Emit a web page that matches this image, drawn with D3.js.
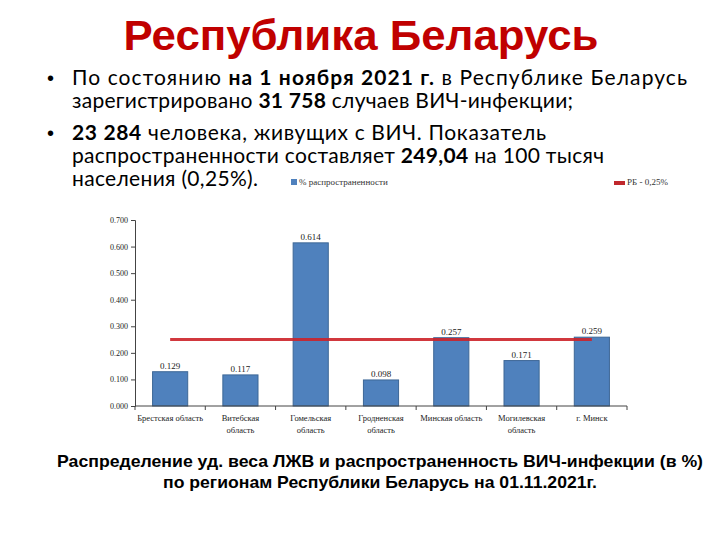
<!DOCTYPE html>
<html><head><meta charset="utf-8">
<script src="https://cdn.jsdelivr.net/npm/d3@7"></script>
<style>body{margin:0;background:#fff}</style>
</head><body>
<svg id="c" width="720" height="540"></svg>
<script>
const categories = [["Брестская область"],["Витебская","область"],["Гомельская","область"],["Гродненская","область"],["Минская область"],["Могилевская","область"],["г. Минск"]];
const values = [0.129, 0.117, 0.614, 0.098, 0.257, 0.171, 0.259];
const labels = ["0.129","0.117","0.614","0.098","0.257","0.171","0.259"];
const rbValue = 0.25;
const yTicks = [0,0.1,0.2,0.3,0.4,0.5,0.6,0.7];
const title = "Республика Беларусь";
const bullets = [
  [[["По состоянию ",false],["на 1 ноября 2021 г.",true],[" в Республике Беларусь",false]],
   [["зарегистрировано ",false],["31 758",true],[" случаев ВИЧ-инфекции;",false]]],
  [[["23 284",true],[" человека, живущих с ВИЧ. Показатель",false]],
   [["распространенности составляет ",false],["249,04",true],[" на 100 тысяч",false]],
   [["населения (0,25%).",false]]]
];
const caption = ["Распределение уд. веса ЛЖВ и распространенность ВИЧ-инфекции (в %)","по регионам Республики Беларусь на 01.11.2021г."];

const svg = d3.select("#c");
svg.append("text").attr("x",361).attr("y",50).attr("text-anchor","middle")
  .attr("font-family","Liberation Sans, Arial, sans-serif").attr("font-weight","bold")
  .attr("font-size",43).attr("fill","#c00000").attr("textLength",475).attr("lengthAdjust","spacingAndGlyphs").text(title);

const bf = "Lato, 'Open Sans', sans-serif";
const lineY = [[85,108],[140,163,186]];
const lineW = [[615,501],[474,532,186]];
bullets.forEach((b,i)=>{
  svg.append("text").attr("x",47).attr("y",lineY[i][0]).attr("font-family","Liberation Sans, Arial").attr("font-size",20).text("•");
  b.forEach((line,j)=>{
    const t = svg.append("text").attr("x",72).attr("y",lineY[i][j]).attr("font-family",bf).attr("font-size",21).attr("fill","#000")
      .attr("textLength",lineW[i][j]).attr("lengthAdjust","spacing");
    line.forEach(([s,bold])=>t.append("tspan").attr("font-weight",bold?"bold":"normal").text(s));
  });
});

const x0=135, x1=627, y0=406, yTop=220;
const x = d3.scaleBand().domain(d3.range(values.length)).range([x0,x1]).paddingInner(0.5).paddingOuter(0.25);
const y = d3.scaleLinear().domain([0,0.7]).range([y0,yTop]);
const serif = "Liberation Serif, 'Times New Roman', serif";

const g = svg.append("g");
g.append("g").attr("transform",`translate(${x0},0)`)
  .call(d3.axisLeft(y).tickValues(yTicks).tickFormat(d3.format(".3f")).tickSize(4))
  .call(a=>{a.selectAll("text").attr("font-family",serif).attr("font-size",8).attr("fill","#222");
    a.selectAll("line,path").attr("stroke","#444");});

g.selectAll("rect.bar").data(values).join("rect").attr("class","bar")
  .attr("x",(d,i)=>x(i)).attr("width",x.bandwidth())
  .attr("y",d=>y(d)).attr("height",d=>y0-y(d))
  .attr("fill","#4f81bd").attr("stroke","#3d6796").attr("stroke-width",1);

const step = (x1-x0)/values.length;
g.append("line").attr("x1",x(0)+x.bandwidth()/2).attr("x2",x(values.length-1)+x.bandwidth()/2)
  .attr("y1",y(rbValue)).attr("y2",y(rbValue)).attr("stroke","#cc2229").attr("stroke-width",3).attr("stroke-opacity",0.9);

g.selectAll("text.val").data(values).join("text").attr("class","val")
  .attr("x",(d,i)=>x(i)+x.bandwidth()/2).attr("y",d=>y(d)-3).attr("text-anchor","middle")
  .attr("font-family",serif).attr("font-size",9).attr("fill","#222").text((d,i)=>labels[i]);

g.append("line").attr("x1",x0).attr("x2",x1).attr("y1",y0).attr("y2",y0).attr("stroke","#444");
d3.range(values.length+1).forEach(i=>{
  g.append("line").attr("x1",x0+i*step).attr("x2",x0+i*step).attr("y1",y0).attr("y2",y0+4).attr("stroke","#444");
});
categories.forEach((c,i)=>{
  c.forEach((s,k)=>{
    g.append("text").attr("x",x(i)+x.bandwidth()/2).attr("y",y0+15+k*12).attr("text-anchor","middle")
      .attr("font-family",serif).attr("font-size",8.5).attr("fill","#222").text(s);
  });
});

svg.append("rect").attr("x",291).attr("y",179).attr("width",6).attr("height",6).attr("fill","#4f81bd");
svg.append("text").attr("x",299).attr("y",185).attr("font-family",serif).attr("font-size",9).attr("fill","#333").text("% распространенности");
svg.append("rect").attr("x",614).attr("y",181).attr("width",11).attr("height",4).attr("fill","#c0282d");
svg.append("text").attr("x",627).attr("y",185).attr("font-family",serif).attr("font-size",9).attr("fill","#333").text("РБ - 0,25%");

const capW = [646, 434];
caption.forEach((s,i)=>{
  svg.append("text").attr("x",380).attr("y",467+i*21).attr("text-anchor","middle")
    .attr("font-family","'Liberation Sans Narrow', 'Liberation Sans', Arial, sans-serif").attr("font-weight","bold").attr("font-size",17)
    .attr("textLength",capW[i]).attr("lengthAdjust","spacingAndGlyphs").text(s);
});
</script>
</body></html>
